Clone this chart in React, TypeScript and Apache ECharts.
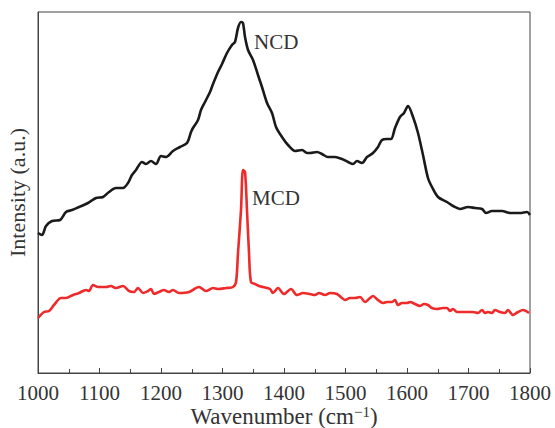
import React, { useEffect, useRef } from "react";
import * as echarts from "echarts";

const ncdWave = [1000, 1006.5, 1013, 1022.8, 1035.8, 1045.5, 1055.3, 1066.7, 1081.3, 1094.3, 1105.7, 1115.4, 1126.8, 1138.2, 1146.3, 1152.8, 1159.3, 1169.1, 1175.6, 1183.7, 1191.9, 1200, 1208.1, 1219.5, 1230.9, 1242.3, 1248.8, 1252, 1260.2, 1265, 1271.5, 1279.7, 1284.6, 1292.7, 1299.2, 1307.3, 1315.4, 1320.3, 1325.2, 1330.1, 1333.3, 1336.6, 1341.5, 1349.6, 1357.7, 1364.2, 1372.4, 1380.5, 1387, 1396.7, 1406.5, 1417.9, 1429.3, 1437.4, 1442.3, 1453.7, 1461.8, 1471.5, 1482.9, 1494.3, 1504.1, 1512.2, 1518.7, 1526.8, 1535, 1544.7, 1552.8, 1559.3, 1567.5, 1574, 1580.5, 1588.6, 1595.1, 1601.6, 1609.8, 1617.9, 1626, 1634.1, 1640.6, 1650.4, 1665, 1674.8, 1686.2, 1699.2, 1710.6, 1722, 1728.5, 1738.2, 1754.5, 1767.5, 1783.7, 1795.1, 1800];
const ncdIntensity = [140, 138, 147, 152, 153, 161, 163, 166, 170, 175, 176, 181, 185, 185, 190, 198, 203, 211, 209, 212, 209, 217, 216, 222, 226, 230, 241, 245, 253, 263, 271, 281, 289, 301, 309, 320, 328, 331, 345, 351, 350, 336, 323, 313, 298, 286, 270, 260, 246, 236, 228, 222, 223, 220, 220, 221, 219, 216, 216, 214, 211, 209, 212, 210, 216, 220, 226, 233, 234, 234, 245, 256, 260, 267, 256, 240, 218, 195, 186, 176, 171, 167, 164, 166, 165, 164, 160, 162, 162, 160, 160, 161, 158];

const mcdWave = [1000, 1009.8, 1017.9, 1026, 1037.4, 1045.5, 1056.9, 1066.7, 1078, 1082.9, 1089.4, 1097.6, 1110.6, 1118.7, 1126.8, 1138.2, 1148, 1156.1, 1162.6, 1170.7, 1178.9, 1183.7, 1188.6, 1196.7, 1204.9, 1213, 1219.5, 1229.3, 1245.5, 1261.8, 1273.2, 1284.6, 1292.7, 1305.7, 1317.1, 1322, 1325.2, 1330.1, 1333.3, 1336.6, 1339.8, 1343.1, 1346.3, 1352.8, 1359.3, 1365.9, 1377.2, 1382.1, 1390.2, 1400, 1411.4, 1421.1, 1430.9, 1442.3, 1450.4, 1456.9, 1466.7, 1474.8, 1486.2, 1494.3, 1499.2, 1507.3, 1515.4, 1523.6, 1531.7, 1539.8, 1544.7, 1552.8, 1561, 1567.5, 1575.6, 1580.5, 1585.4, 1591.9, 1600, 1604.9, 1613, 1621.1, 1627.6, 1634.1, 1640.6, 1648.8, 1658.5, 1665, 1669.9, 1674.8, 1681.3, 1697.6, 1707.3, 1715.4, 1722, 1726.8, 1731.7, 1738.2, 1743.1, 1751.2, 1759.3, 1764.2, 1772.4, 1780.5, 1788.6, 1798.4];
const mcdIntensity = [55, 61, 62, 68, 75, 75, 78, 80, 83, 82, 88, 86, 86, 87, 85, 87, 82, 81, 85, 80, 82, 84, 79, 81, 83, 81, 83, 80, 81, 86, 82, 85, 84, 85, 86, 91, 120, 163, 203, 201, 163, 120, 91, 89, 87, 86, 84, 80, 85, 79, 84, 78, 80, 79, 78, 80, 78, 80, 79, 75, 73, 75, 75, 76, 71, 75, 77, 73, 70, 71, 71, 73, 68, 70, 70, 71, 69, 67, 69, 68, 65, 64, 65, 65, 62, 64, 61, 61, 61, 60, 63, 60, 61, 60, 63, 61, 60, 63, 58, 61, 63, 60];

const xTicks = [1000, 1100, 1200, 1300, 1400, 1500, 1600, 1700, 1800];

const FONT = "'Liberation Serif', 'Times New Roman', serif";

export default function App() {
  const ref = useRef<HTMLDivElement>(null);
  useEffect(() => {
    if (!ref.current) return;
    const chart = echarts.init(ref.current, undefined, { renderer: "svg" });
    chart.setOption({
      animation: false,
      backgroundColor: "#ffffff",
      grid: {
        left: 38, right: 25, top: 12, bottom: 55,
        outerBoundsMode: "none", containLabel: false,
        show: true, borderColor: "#444", borderWidth: 1, backgroundColor: "transparent",
      },
      xAxis: {
        type: "value",
        min: xTicks[0],
        max: xTicks[xTicks.length - 1],
        interval: 100,
        axisLine: { show: true, lineStyle: { color: "#444", width: 1 } },
        axisTick: { show: true, inside: true, length: 5, lineStyle: { color: "#444" } },
        minorTick: { show: true, splitNumber: 2, length: 4, lineStyle: { color: "#444" } },
        splitLine: { show: false },
        axisLabel: { color: "#333", fontFamily: FONT, fontSize: 21, margin: 9, formatter: (v: number) => String(v) },
      },
      yAxis: {
        type: "value",
        min: 0,
        max: 361,
        axisLine: { show: true, lineStyle: { color: "#444", width: 1 } },
        axisTick: { show: false },
        axisLabel: { show: false },
        splitLine: { show: false },
        name: "Intensity (a.u.)",
        nameLocation: "middle",
        nameGap: 11,
        nameRotate: 90,
        nameTextStyle: { color: "#333", fontFamily: FONT, fontSize: 22, lineHeight: 20 },
      },
      series: [
        {
          type: "line",
          name: "NCD",
          data: ncdWave.map((w, i) => [w, ncdIntensity[i]]),
          showSymbol: false,
          smooth: 0.3,
          lineStyle: { color: "#1a1a1a", width: 2.6 },
        },
        {
          type: "line",
          name: "MCD",
          data: mcdWave.map((w, i) => [w, mcdIntensity[i]]),
          showSymbol: false,
          smooth: 0.3,
          lineStyle: { color: "#ee2a2a", width: 2.6 },
        },
      ],
      graphic: [
        { type: "text", left: 254, top: 31, style: { text: "NCD", fill: "#333", font: `21px ${FONT}` } },
        { type: "text", left: 252, top: 187, style: { text: "MCD", fill: "#333", font: `21px ${FONT}` } },
        {
          type: "text",
          x: 284,
          y: 404,
          style: {
            text: "Wavenumber (cm{sup|−1})",
            fill: "#333",
            font: `23px ${FONT}`,
            align: "center",
            verticalAlign: "top",
            rich: { sup: { fontSize: 15, fontFamily: FONT, fill: "#333", verticalAlign: "top", padding: [0, 0, 10, 0] } },
          },
        },
      ],
    });
    return () => chart.dispose();
  }, []);
  return <div ref={ref} style={{ position: "absolute", left: 0, top: 0, width: 555, height: 428 }} />;
}
